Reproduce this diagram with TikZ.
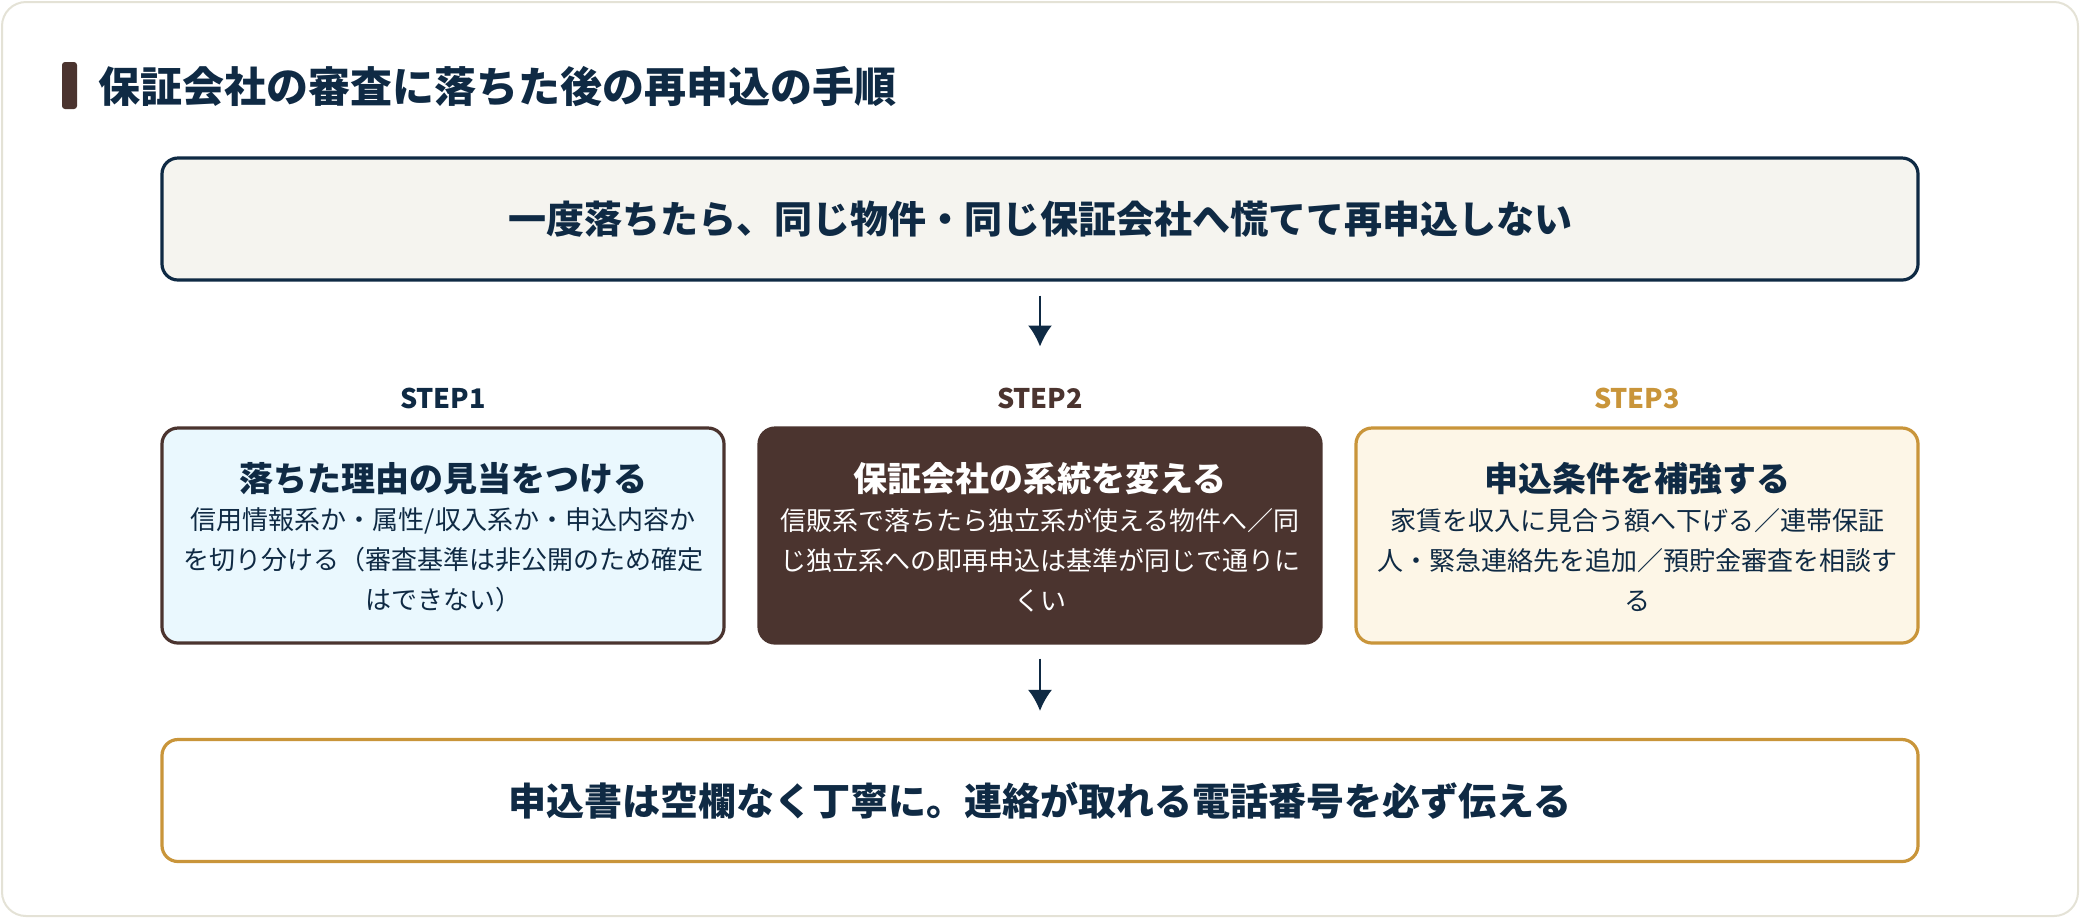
\documentclass[tikz,border=0pt]{standalone}
\usepackage{fontspec}
\setmainfont{Noto Sans CJK JP}
\usepackage{xcolor}
\usetikzlibrary{arrows.meta,positioning}

\definecolor{navy}{HTML}{0F2A44}
\definecolor{brown}{HTML}{4B342F}
\definecolor{gold}{HTML}{C9953A}
\definecolor{skyfill}{HTML}{EAF8FE}
\definecolor{creamfill}{HTML}{FDF6E7}
\definecolor{paperfill}{HTML}{F5F4EF}
\definecolor{framegray}{HTML}{E4E2D6}

\begin{document}
\begin{tikzpicture}[
    x=0.5pt,y=-0.5pt,
    wide/.style={draw,line width=1.6pt,rounded corners=8pt,minimum width=878pt,minimum height=61pt,font=\bfseries\fontsize{19}{23}\selectfont,text=navy},
    stepbox/.style={draw,line width=1.6pt,rounded corners=8pt,minimum width=281pt,minimum height=107.5pt},
    steplbl/.style={font=\bfseries\fontsize{13.5}{16}\selectfont},
    head/.style={font=\bfseries\fontsize{17}{20}\selectfont},
    body/.style={font=\fontsize{13}{20}\selectfont,align=center},
    flow/.style={->,draw=navy,line width=1pt},
    >={Latex[length=10.5pt,width=12pt]},
]
    \useasboundingbox (0,0) rectangle (2080,918);
    \draw[framegray,line width=1pt,fill=white,rounded corners=12pt] (2,2) rectangle (2078,916);

    % title
    \fill[brown,rounded corners=1.5pt] (62,62) rectangle (77,109);
    \node[anchor=west,text=navy,font=\bfseries\fontsize{21}{25}\selectfont] (title) at (91,87) {保証会社の審査に落ちた後の再申込の手順};

    \node[wide,draw=navy,fill=paperfill] (top) at (1040,219) {一度落ちたら、同じ物件・同じ保証会社へ慌てて再申込しない};

    % steps
    \node[steplbl,text=navy] (l1) at (443,398) {STEP1};
    \node[steplbl,text=brown] (l2) at (1040,398) {STEP2};
    \node[steplbl,text=gold] (l3) at (1637,398) {STEP3};

    \node[stepbox,draw=brown,fill=skyfill] (s1) at (443,535.5) {};
    \node[stepbox,draw=brown,fill=brown] (s2) at (1040,535.5) {};
    \node[stepbox,draw=gold,fill=creamfill] (s3) at (1637,535.5) {};

    \node[head,text=navy] (h1) at (443,479) {落ちた理由の見当をつける};
    \node[body,text=navy] (b1) at (443,560) {信用情報系か・属性/収入系か・申込内容か\\を切り分ける（審査基準は非公開のため確定\\はできない）};
    \node[head,text=white] (h2) at (1040,479) {保証会社の系統を変える};
    \node[body,text=white] (b2) at (1040,560) {信販系で落ちたら独立系が使える物件へ／同\\じ独立系への即再申込は基準が同じで通りに\\くい};
    \node[head,text=navy] (h3) at (1637,479) {申込条件を補強する};
    \node[body,text=navy] (b3) at (1637,560) {家賃を収入に見合う額へ下げる／連帯保証\\人・緊急連絡先を追加／預貯金審査を相談す\\る};

    \node[wide,draw=gold,fill=white] (bottom) at (1040,800.5) {申込書は空欄なく丁寧に。連絡が取れる電話番号を必ず伝える};

    \draw[flow,shorten <=7pt,shorten >=17pt] (top.south) -- (l2.north);
    \draw[flow,shorten <=7pt,shorten >=13.5pt] (s2.south) -- (bottom.north);
\end{tikzpicture}
\end{document}
